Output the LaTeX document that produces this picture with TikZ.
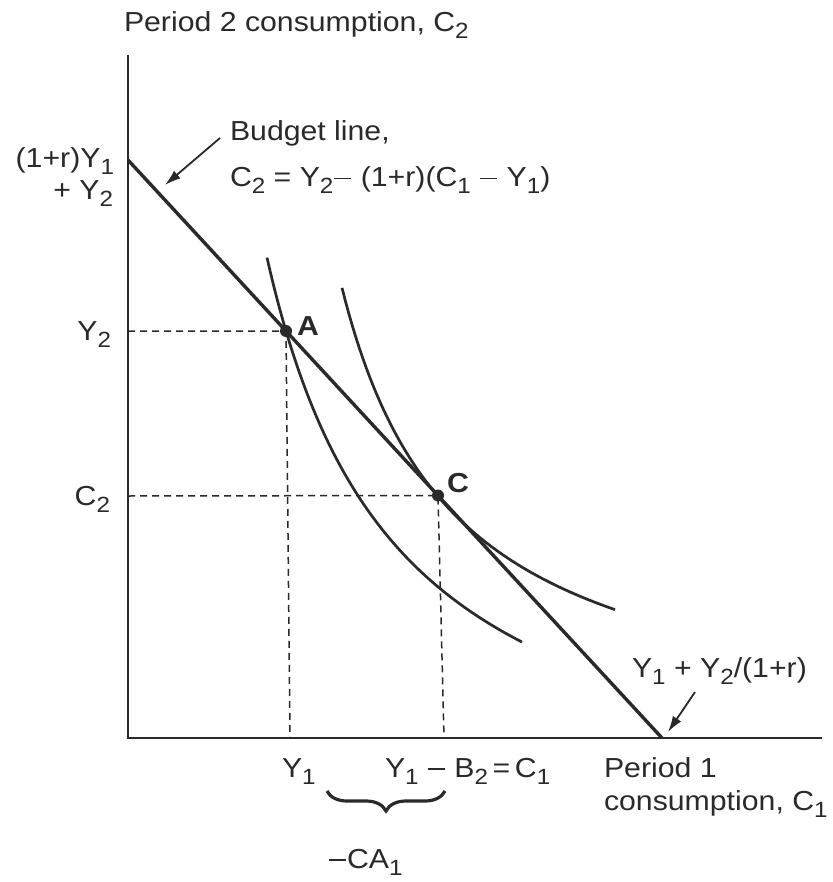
\documentclass[tikz,border=0pt]{standalone}
\usepackage{fontspec}
\setmainfont{Liberation Sans}[FakeStretch=1.1]
\usetikzlibrary{arrows.meta,decorations.pathreplacing}
\definecolor{ink}{RGB}{42,42,42}
\newcommand\lsub[1]{\raisebox{-7pt}{\fontsize{22}{22}\selectfont #1}}
\newcommand\lminus{\hspace{1pt}\raisebox{7.5pt}{\rule{17pt}{1.9pt}}\hspace{1pt}}
\begin{document}
\begin{tikzpicture}[x=1pt,y=-1pt,
  every node/.style={font=\fontsize{27.5}{32}\selectfont, text=ink, inner sep=0pt, outer sep=0pt},
  axisline/.style={draw=ink, line width=2pt},
  budget/.style={draw=ink, line width=3.4pt},
  icurve/.style={draw=ink, line width=2.7pt},
  guide/.style={draw=ink, line width=1.5pt, dash pattern=on 7pt off 5pt},
  pointer/.style={draw=ink, line width=1.8pt, -{Latex[length=16pt,width=10pt]}},
  dot/.style={circle, fill=ink, minimum size=12pt, inner sep=0pt},
  ptlabel/.style={font=\fontsize{27.5}{32}\selectfont\bfseries}]
\useasboundingbox (0,0) rectangle (832,882);
\fill[white] (0,0) rectangle (832,882);

% axes
\coordinate (O) at (128,738);
\coordinate (ytop) at (128,55);
\coordinate (xend) at (822,738);
\draw[axisline] (ytop) -- (O) -- (xend);

% budget line
\coordinate (b0) at (128,160);
\coordinate (b1) at (662,738);
\draw[budget] (b0) -- (b1);

% indifference curves
\draw[icurve] plot[domain=267:522, samples=80] ({\x},{738-(-103+770/((\x-135)/100))});
\draw[icurve] plot[domain=342:615, samples=80] ({\x},{738-(-6+520/((\x-228)/100))});

% guides
\coordinate (ay) at (128,331);
\coordinate (cy) at (128,496);
\coordinate (ax) at (290,738);
\coordinate (cx) at (444,738);
\coordinate (Ap) at (286,331);
\coordinate (Cp) at (438,495.5);
\draw[guide] (ay) -- (Ap) -- (ax);
\draw[guide] (cy) -- (Cp) -- (cx);

% points
\node[dot] (A) at (Ap) {};
\node[dot] (C) at (Cp) {};
\node[ptlabel, anchor=west] (Alab) at (297,326) {A};
\node[ptlabel, anchor=west] (Clab) at (447,483) {C};

% axis titles
\node[anchor=base west] (ytitle) at (124,32) {Period 2 consumption, C\lsub{2}};
\node[anchor=base west] (xt1) at (604,777) {Period 1};
\node[anchor=base west] (xt2) at (604,810) {consumption, C\lsub{1}};

% y-axis labels
\node[anchor=base east] (int1) at (114,168) {(1+r)Y\lsub{1}};
\node[anchor=base east] (int2) at (113,200) {+ Y\lsub{2}};
\node[anchor=base east] (ly2) at (111,340) {Y\lsub{2}};
\node[anchor=base east] (lc2) at (110,505) {C\lsub{2}};

% x-axis labels
\node[anchor=base west] (lx1) at (282,777) {Y\lsub{1}};
\node[anchor=base west] (lxc) at (385,777) {Y\lsub{1}\ \lminus\ B\lsub{2}\,=\,C\lsub{1}};
\node[anchor=base west] (ca) at (328,868) {\lminus CA\lsub{1}};

% brace
\coordinate (brL) at (327,791);
\coordinate (brR) at (445,791);
\draw[draw=ink, line width=3.2pt, decorate, decoration={brace, mirror, amplitude=20pt, aspect=0.5}] (brL) -- (brR);

% budget line annotation
\node[anchor=base west] (bl1) at (230,141) {Budget line,};
\node[anchor=base west] (bl2) at (230,187) {C\lsub{2} = Y\lsub{2}\lminus\ (1+r)(C\lsub{1}\ \lminus\ Y\lsub{1})};
\coordinate (bt) at (220,138);
\coordinate (bh) at (165,185);
\draw[pointer] (bt) -- (bh);

% intercept annotation
\node[anchor=base west] (xi) at (632,677) {Y\lsub{1} + Y\lsub{2}/(1+r)};
\coordinate (xt) at (695,692);
\coordinate (xh) at (668,732);
\draw[pointer] (xt) -- (xh);
\end{tikzpicture}
\end{document}
